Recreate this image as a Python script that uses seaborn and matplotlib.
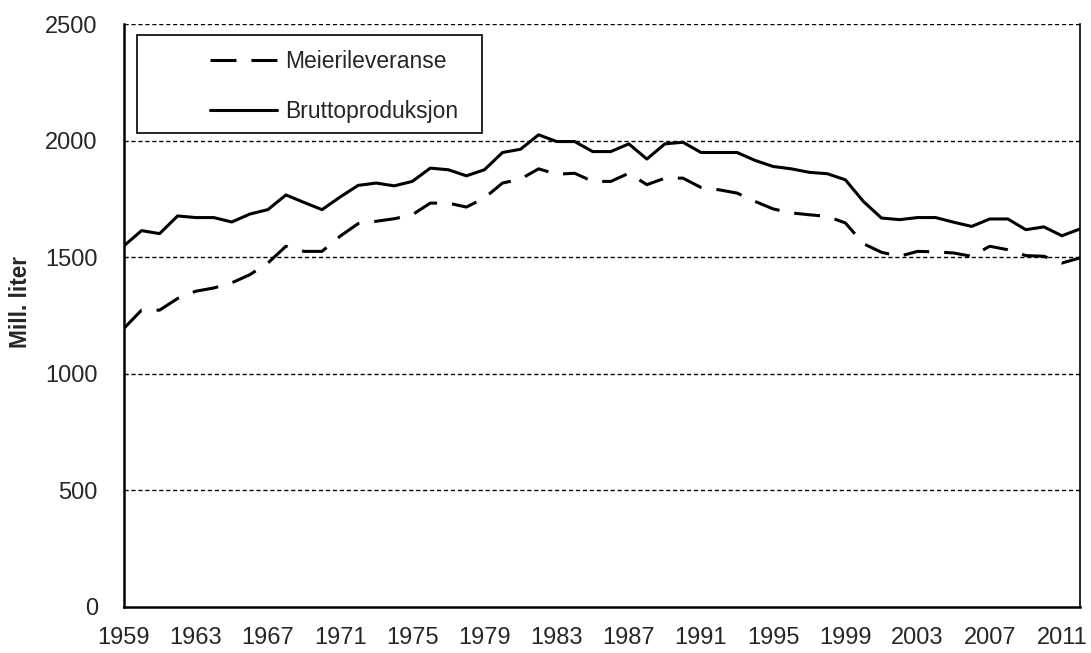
import numpy as np
import pandas as pd
import seaborn as sns
import matplotlib.pyplot as plt
from matplotlib.patches import Rectangle

sns.set_style('white')
plt.rcParams['font.family'] = ['Liberation Sans', 'DejaVu Sans']

years = list(range(1959, 2013))
brutto = [1547, 1614, 1601, 1677, 1670, 1670, 1651, 1685, 1704, 1767,
          1735, 1704, 1758, 1808, 1818, 1806, 1825, 1882, 1875, 1849,
          1875, 1949, 1963, 2025, 1996, 1996, 1953, 1953, 1986, 1921,
          1986, 1993, 1949, 1949, 1949, 1915, 1889, 1879, 1864, 1858,
          1832, 1739, 1668, 1661, 1670, 1670, 1650, 1632, 1664, 1664,
          1618, 1630, 1592, 1621]
meieri = [1193, 1273, 1273, 1323, 1354, 1368, 1390, 1425, 1475, 1547,
          1525, 1525, 1590, 1644, 1654, 1665, 1682, 1732, 1732, 1715,
          1754, 1818, 1835, 1879, 1856, 1860, 1825, 1825, 1860, 1811,
          1839, 1839, 1799, 1789, 1775, 1739, 1707, 1690, 1682, 1675,
          1647, 1558, 1521, 1504, 1525, 1523, 1518, 1504, 1547, 1532,
          1507, 1504, 1475, 1497]
series = ['Meierileveranse', 'Bruttoproduksjon']
xticks = list(range(1959, 2012, 4))
yticks = [0, 500, 1000, 1500, 2000, 2500]

df = pd.DataFrame({
    'year': years * 2,
    'value': meieri + brutto,
    'serie': [series[0]] * len(years) + [series[1]] * len(years),
})

fig = plt.figure(figsize=(10.91, 6.53), dpi=100)
ax = fig.add_axes([0.1132, 0.0705, 0.8767, 0.8927])

sns.lineplot(data=df, x='year', y='value', style='serie', style_order=series,
             dashes={series[0]: (8.5, 4.9), series[1]: ''}, color='black',
             lw=2.2, ax=ax, legend=True)

ax.set_xlim(1959, 2012)
ax.set_ylim(0, 2500)
ax.set_xticks(xticks)
ax.set_yticks(yticks)
ax.tick_params(axis='x', direction='out', length=6, width=1.2, labelsize=17, pad=8.5, color='black')
ax.tick_params(axis='y', direction='inout', length=14, width=1.2, labelsize=17, pad=11.5, color='black')
for y in yticks[1:]:
    ax.axhline(y, color='black', lw=1.0, ls=(0, (3, 2)), zorder=0)

ax.set_xlabel('')
ax.set_ylabel('Mill. liter', fontsize=16.3, fontweight='bold')
ax.yaxis.set_label_coords(-0.096, 0.524)

for side in ['left', 'bottom']:
    ax.spines[side].set_linewidth(1.8)
    ax.spines[side].set_color('black')
ax.spines['right'].set_linewidth(1.2)
ax.spines['right'].set_color('black')
ax.spines['top'].set_visible(False)

handles, labels = ax.get_legend_handles_labels()
leg = ax.legend(handles, labels, loc='upper left', bbox_to_anchor=(0.0903, 0.955),
                frameon=False, fontsize=16.5, handlelength=2.95, handletextpad=0.35,
                labelspacing=1.16, borderaxespad=0, borderpad=0)
ax.add_patch(Rectangle((0.0141, 0.813), 0.3605, 0.168, transform=ax.transAxes,
                       fill=False, edgecolor='black', lw=1.2, zorder=5))

fig.savefig('out.png', dpi=100, facecolor='w')
